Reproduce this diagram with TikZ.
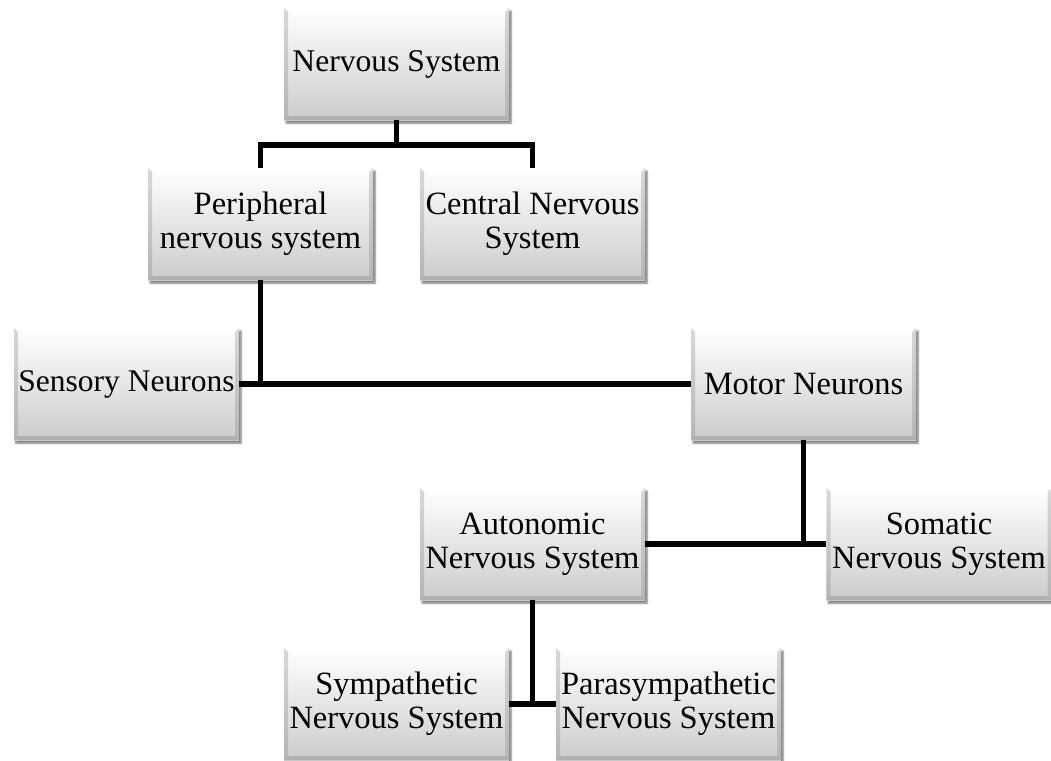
\documentclass[tikz,border=0pt]{standalone}
\usepackage{fontspec}
\setmainfont{Liberation Serif}
\usetikzlibrary{shadows.blur}
\begin{document}
\begin{tikzpicture}[x=1pt,y=-1pt,
  box/.style={rectangle, minimum width=225pt, minimum height=112pt, inner sep=0pt,
    align=center, top color=white, bottom color=gray!40,
    font=\fontsize{32.5}{34}\selectfont,
    blur shadow={shadow xshift=2pt, shadow yshift=-3pt, shadow blur steps=6, shadow opacity=55},
    path picture={
      \fill[white,opacity=0.7] (path picture bounding box.north west) -- (path picture bounding box.north east) -- ([shift={(-4pt,-4pt)}]path picture bounding box.north east) -- ([shift={(4pt,-4pt)}]path picture bounding box.north west) -- cycle;
      \fill[gray,opacity=0.3] (path picture bounding box.north west) -- ([shift={(4pt,-4pt)}]path picture bounding box.north west) -- ([shift={(4pt,4pt)}]path picture bounding box.south west) -- (path picture bounding box.south west) -- cycle;
      \fill[gray,opacity=0.3] (path picture bounding box.north east) -- ([shift={(-4pt,-4pt)}]path picture bounding box.north east) -- ([shift={(-4pt,4pt)}]path picture bounding box.south east) -- (path picture bounding box.south east) -- cycle;
      \fill[gray,opacity=0.35] (path picture bounding box.south west) -- ([shift={(4pt,4pt)}]path picture bounding box.south west) -- ([shift={(-4pt,4pt)}]path picture bounding box.south east) -- (path picture bounding box.south east) -- cycle;
    }},
  conn/.style={line width=5.5pt, black}]
\useasboundingbox (0,0) rectangle (1051,760);
\node[box, font=\fontsize{31.6}{34}\selectfont] (ns) at (396.5,64) {Nervous System};
\node[box] (pns) at (260.5,224) {Peripheral\\nervous system};
\node[box] (cns) at (532.5,224) {Central Nervous\\System};
\node[box, font=\fontsize{31.5}{34}\selectfont] (sn) at (126.5,384) {Sensory Neurons};
\node[box] (mn) at (803.5,384) {Motor Neurons};
\node[box] (ans) at (532.5,544) {Autonomic\\Nervous System};
\node[box] (sons) at (939,544) {Somatic\\Nervous System};
\node[box] (symp) at (396.5,704) {Sympathetic\\Nervous System};
\node[box] (para) at (668.5,704) {Parasympathetic\\Nervous System};
\coordinate (j1) at (396.5,145);
\draw[conn] (ns.south) -- (j1);
\draw[conn] (pns.north) |- (j1) -| (cns.north);
\draw[conn] (pns.south) -- (pns.south |- sn.east);
\draw[conn] (sn.east) -- (mn.west);
\draw[conn] (mn.south) -- (mn.south |- sons.west);
\draw[conn] (ans.east) -- (sons.west);
\draw[conn] (ans.south) -- (ans.south |- symp.east);
\draw[conn] (symp.east) -- (para.west);
\end{tikzpicture}
\end{document}
